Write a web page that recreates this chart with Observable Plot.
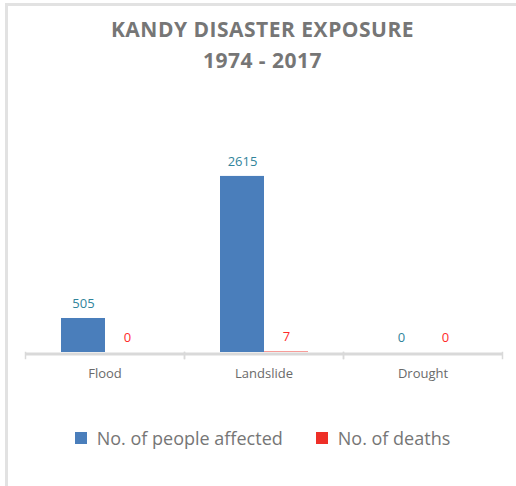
<!DOCTYPE html>
<html>
<head>
<meta charset="utf-8">
<script src="https://cdn.jsdelivr.net/npm/d3@7"></script>
<script src="https://cdn.jsdelivr.net/npm/@observablehq/plot@0.6"></script>
<style>
  html, body { margin: 0; padding: 0; background: #fff; }
  #chart { position: relative; width: 516px; height: 486px; overflow: hidden; font-family: "Open Sans", sans-serif; }
  #frame { position: absolute; left: 5px; top: 3px; width: 520px; height: 500px; border-top: 3px solid #e2e2e2; border-left: 3px solid #e2e2e2; box-sizing: border-box; }
  #title { position: absolute; left: 9px; width: 507px; top: 14px; text-align: center; font-weight: bold; font-size: 21px; letter-spacing: 0.5px; line-height: 31px; color: #767676; }
  #plot { position: absolute; left: 0; top: 130px; }
  #legend { position: absolute; left: 9px; width: 507px; top: 425px; display: flex; justify-content: center; gap: 33px; font-size: 18px; line-height: 26px; color: #767676; }
  #legend .item { display: flex; align-items: center; }
  #legend .sw { width: 12px; height: 12px; margin-right: 10px; }
</style>
</head>
<body>
<div id="chart">
  <div id="frame"></div>
  <div id="title">KANDY DISASTER EXPOSURE<br>1974 - 2017</div>
  <div id="plot"></div>
  <div id="legend"></div>
</div>
<script>
const categories = ["Flood", "Landslide", "Drought"];
const affected = [505, 2615, 0];
const deaths = [0, 7, 0];
const seriesNames = ["No. of people affected", "No. of deaths"];
const seriesColors = ["#4a7ebb", "#ee2f27"];
const labelColors = ["#31849b", "#ff2a2a"];
const yDomain = [0, 3000];

const data = categories.flatMap((c, i) => [
  {category: c, series: seriesNames[0], value: affected[i]},
  {category: c, series: seriesNames[1], value: deaths[i]}
]);

const W = 516, H = 260, mt = 20, mb = 38, ml = 25, mr = 14;
const innerH = H - mt - mb;
const gridColor = "#d9d9d9";

const chart = Plot.plot({
  width: W, height: H,
  marginTop: mt, marginBottom: mb, marginLeft: ml, marginRight: mr,
  style: {fontFamily: "Open Sans, sans-serif", background: "transparent"},
  fx: {domain: categories, padding: 0, label: null},
  x: {domain: seriesNames, paddingInner: 0, paddingOuter: 0.767, axis: null},
  y: {domain: yDomain, axis: null},
  color: {domain: seriesNames, range: seriesColors},
  marks: [
    Plot.barY(data, {fx: "category", x: "series", y: "value", fill: "series"}),
    ...seriesNames.map((s, k) =>
      Plot.text(data.filter(d => d.series === s), {
        fx: "category", x: "series", y: "value",
        text: d => String(d.value), dy: -15, fill: labelColors[k], fontSize: 13
      })
    ),
    Plot.ruleY([0], {stroke: gridColor, strokeWidth: 3, dy: 1.5}),
    Plot.frame({anchor: "left", stroke: gridColor, strokeWidth: 1.5, insetTop: innerH, insetBottom: -6}),
    Plot.frame({anchor: "right", stroke: gridColor, strokeWidth: 1.5, insetTop: innerH, insetBottom: -6}),
    Plot.axisFx({anchor: "bottom", tickSize: 0, tickPadding: 16, fontSize: 13, color: "#6a6a6a", label: null})
  ]
});
document.getElementById("plot").appendChild(chart);

const legend = document.getElementById("legend");
seriesNames.forEach((s, k) => {
  const item = document.createElement("div");
  item.className = "item";
  const sw = document.createElement("span");
  sw.className = "sw";
  sw.style.background = seriesColors[k];
  const t = document.createElement("span");
  t.textContent = s;
  item.appendChild(sw);
  item.appendChild(t);
  legend.appendChild(item);
});
</script>
</body>
</html>
